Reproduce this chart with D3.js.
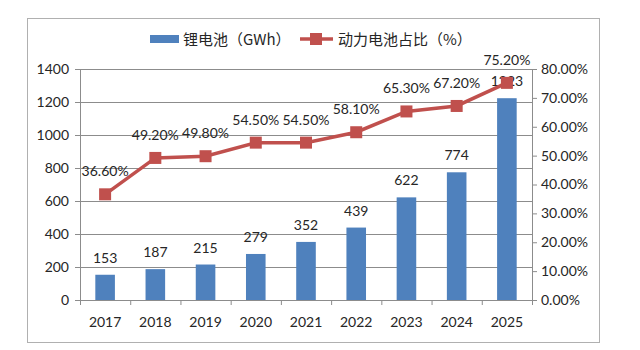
<!DOCTYPE html>
<html>
<head>
<meta charset="utf-8">
<script src="https://cdn.jsdelivr.net/npm/d3@7"></script>
<style>
  body { margin: 0; background: #fff; }
  text { font-family: Lato, "Noto Sans", sans-serif; fill: #262626; }
</style>
</head>
<body>
<div id="chart"></div>
<script>
// data
let years = ["2017", "2018", "2019", "2020", "2021", "2022", "2023", "2024", "2025"]
let batteryGWh = [153, 187, 215, 279, 352, 439, 622, 774, 1223]
let powerShare = [36.6, 49.2, 49.8, 54.5, 54.5, 58.1, 65.3, 67.2, 75.2]
let leftTicks = [0, 200, 400, 600, 800, 1000, 1200, 1400]
let rightTicks = [0, 10, 20, 30, 40, 50, 60, 70, 80]
let barName = "锂电池（GWh）"
let lineName = "动力电池占比（%）"

const W = 640, H = 350
let margin = {top: 69, right: 108, bottom: 50, left: 80},
    width = W - margin.left - margin.right,
    height = H - margin.top - margin.bottom;

let svg = d3.select("#chart")
    .append("svg")
    .attr("width", W)
    .attr("height", H)

// outer frame
svg.append("rect")
    .attr("x", 27.5).attr("y", 18.5)
    .attr("width", 572).attr("height", 324)
    .attr("fill", "none")
    .attr("stroke", "#b0b0b0")

let g = svg.append("g")
    .attr("transform", "translate(" + margin.left + "," + margin.top + ")")

let x = d3.scaleBand()
    .domain(years)
    .range([0, width])
    .paddingInner(0.61)
    .paddingOuter(0.305)

let y = d3.scaleLinear().domain([0, 1400]).range([height, 0])
let y2 = d3.scaleLinear().domain([0, 80]).range([height, 0])

// gridlines
g.append("g")
    .selectAll("line")
    .data(leftTicks.slice(1))
    .join("line")
    .attr("x1", 0).attr("x2", width)
    .attr("y1", d => y(d) + 0.5).attr("y2", d => y(d) + 0.5)
    .attr("stroke", "#8c8c8c")

// bars
g.selectAll("rect.bar")
    .data(batteryGWh)
    .join("rect")
    .attr("class", "bar")
    .attr("x", (d, i) => x(years[i]))
    .attr("y", d => y(d))
    .attr("width", x.bandwidth())
    .attr("height", d => height - y(d))
    .attr("fill", "#4f81bd")

// axes
let yAxis = g.append("g")
    .call(d3.axisLeft(y).tickValues(leftTicks).tickSize(5).tickSizeOuter(0).tickPadding(6)
        .tickFormat(d3.format("d")))
let y2Axis = g.append("g")
    .attr("transform", "translate(" + width + ",0)")
    .call(d3.axisRight(y2).tickValues(rightTicks).tickSize(5).tickSizeOuter(0).tickPadding(4)
        .tickFormat(d => d.toFixed(2) + "%"))

let xAxis = g.append("g")
    .attr("transform", "translate(0," + height + ")")
    .call(d3.axisBottom(x).tickSize(0).tickPadding(17))
// tick marks between categories
xAxis.selectAll("line.sep")
    .data(d3.range(years.length + 1))
    .join("line")
    .attr("class", "sep")
    .attr("x1", i => i * x.step() + 0.5)
    .attr("x2", i => i * x.step() + 0.5)
    .attr("y1", 0).attr("y2", 5)
    .attr("stroke", "#8c8c8c")

;[yAxis, y2Axis, xAxis].forEach(a => {
    a.select(".domain").attr("stroke", "#8c8c8c")
    a.selectAll(".tick line").attr("stroke", "#8c8c8c")
    a.selectAll("text").style("font-size", "14px").attr("fill", "#262626")
})

// bar labels
g.selectAll("text.blab")
    .data(batteryGWh)
    .join("text")
    .attr("class", "blab")
    .attr("x", (d, i) => x(years[i]) + x.bandwidth() / 2)
    .attr("y", d => y(d) - 12)
    .attr("text-anchor", "middle")
    .style("font-size", "14px")
    .text(d => d)

// share line
let cx = (d, i) => x(years[i]) + x.bandwidth() / 2
let line = d3.line()
    .x(cx)
    .y(d => y2(d))
g.append("path")
    .datum(powerShare)
    .attr("d", line)
    .attr("fill", "none")
    .attr("stroke", "#c0504d")
    .attr("stroke-width", 3.5)

g.selectAll("rect.mark")
    .data(powerShare)
    .join("rect")
    .attr("class", "mark")
    .attr("x", (d, i) => cx(d, i) - 6)
    .attr("y", d => y2(d) - 6)
    .attr("width", 12).attr("height", 12)
    .attr("fill", "#c0504d")

g.selectAll("text.llab")
    .data(powerShare)
    .join("text")
    .attr("class", "llab")
    .attr("x", cx)
    .attr("y", d => y2(d) - 18)
    .attr("text-anchor", "middle")
    .style("font-size", "14px")
    .text(d => d.toFixed(2) + "%")

// legend
let lg = svg.append("g").attr("transform", "translate(0,39)")
lg.append("rect")
    .attr("x", 150).attr("y", -4)
    .attr("width", 29).attr("height", 8)
    .attr("fill", "#4f81bd")
lg.append("text")
    .attr("x", 183).attr("y", 5.5)
    .style("font-family", "'Noto Sans CJK SC', sans-serif")
    .style("font-size", "15px")
    .text(barName)
lg.append("line")
    .attr("x1", 300).attr("x2", 333)
    .attr("stroke", "#c0504d")
    .attr("stroke-width", 3.5)
lg.append("rect")
    .attr("x", 310).attr("y", -6)
    .attr("width", 12).attr("height", 12)
    .attr("fill", "#c0504d")
lg.append("text")
    .attr("x", 338).attr("y", 5.5)
    .style("font-family", "'Noto Sans CJK SC', sans-serif")
    .style("font-size", "15px")
    .text(lineName)
</script>
</body>
</html>
